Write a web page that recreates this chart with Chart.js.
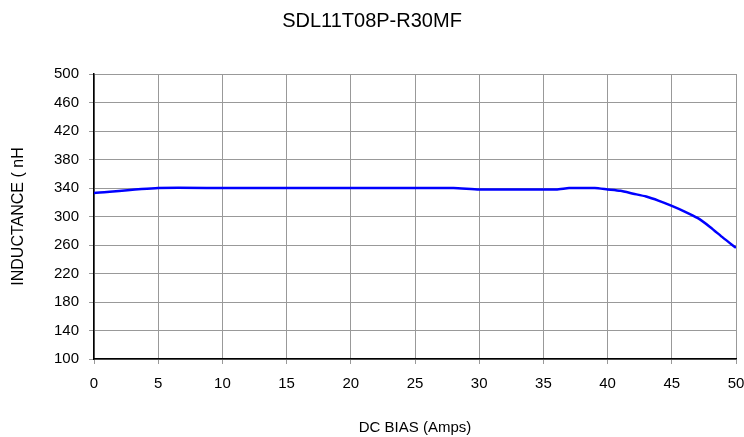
<!DOCTYPE html>
<html>
<head>
<meta charset="utf-8">
<script src="https://cdn.jsdelivr.net/npm/chart.js@4.4.1/dist/chart.umd.min.js"></script>
<style>
    html, body { margin: 0; padding: 0; background: #fff; }
    #wrap { width: 744px; height: 437px; }
</style>
</head>
<body>
<div id="wrap"><canvas id="chart" width="744" height="437"></canvas></div>
<script>
// chart values
const biasAmps = [0, 5, 10, 15, 20, 25, 28, 30, 33, 36, 37, 38, 39, 40, 41, 42, 43, 44, 45, 46, 47, 48, 49, 50];
const inductance = [333, 340, 340, 340, 340, 340, 340, 338, 338, 338, 340, 340, 340, 338, 336, 332, 328, 322, 315, 307, 298, 285, 270, 256];
const yTicks = [100, 140, 180, 220, 260, 300, 340, 380, 420, 460, 500];
const xTicks = [0, 5, 10, 15, 20, 25, 30, 35, 40, 45, 50];

const FONT = 'Arial, "Liberation Sans", sans-serif';

function initChart() {
    const points = biasAmps.map((x, i) => ({ x: x, y: inductance[i] }));

    new Chart(document.getElementById('chart'), {
        type: 'line',
        data: {
            datasets: [{
                data: points,
                borderColor: '#0000ff',
                borderWidth: 2.5,
                pointRadius: 0,
                tension: 0.2,
                fill: false
            }]
        },
        options: {
            responsive: false,
            animation: false,
            layout: { padding: { left: 0, right: 0, top: 0, bottom: 0 } },
            plugins: {
                legend: { display: false },
                tooltip: { enabled: false },
                title: {
                    display: true,
                    text: 'SDL11T08P-R30MF',
                    color: '#000',
                    font: { family: FONT, size: 20, weight: 'normal' },
                    padding: { top: 9, bottom: 41 }
                }
            },
            scales: {
                x: {
                    type: 'linear',
                    min: 0,
                    max: 50,
                    afterBuildTicks: scale => { scale.ticks = xTicks.map(v => ({ value: v })); },
                    afterFit: scale => {
                        scale.height = 78;
                        scale.paddingLeft = 0;
                        scale.paddingRight = 8;
                    },
                    grid: { color: '#999', lineWidth: 1, drawTicks: true, tickLength: 5 },
                    border: { color: '#000', width: 1.5 },
                    ticks: { color: '#000', font: { family: FONT, size: 15 }, padding: 11, maxRotation: 0 },
                    title: {
                        display: true,
                        text: 'DC BIAS (Amps)',
                        color: '#000',
                        font: { family: FONT, size: 15 },
                        padding: { top: 22, bottom: 0 }
                    }
                },
                y: {
                    min: 100,
                    max: 500,
                    afterBuildTicks: scale => { scale.ticks = yTicks.map(v => ({ value: v })); },
                    afterFit: scale => { scale.width = 94; },
                    grid: { color: '#999', lineWidth: 1, drawTicks: true, tickLength: 5 },
                    border: { color: '#000', width: 1.5 },
                    ticks: { color: '#000', font: { family: FONT, size: 15 }, padding: 10 },
                    title: {
                        display: true,
                        text: 'INDUCTANCE ( nH',
                        color: '#000',
                        font: { family: FONT, size: 16 },
                        padding: { top: 9, bottom: 0 }
                    }
                }
            }
        }
    });
}

initChart();
</script>
</body>
</html>
